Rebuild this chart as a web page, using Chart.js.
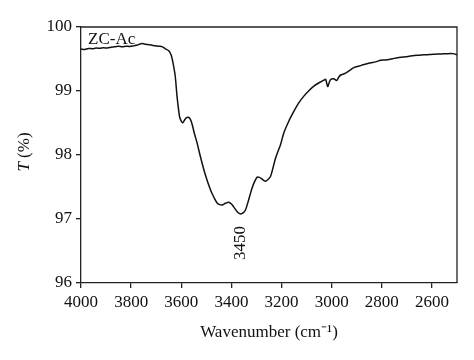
<!DOCTYPE html>
<html>
<head>
<meta charset="utf-8">
<script src="https://cdn.jsdelivr.net/npm/chart.js@4"></script>
<style>
  body { margin: 0; background: #fff; }
  #wrap { width: 474px; height: 360px; }
</style>
</head>
<body>
<div id="wrap"><canvas id="myChart" width="474" height="360"></canvas></div>
<script>
// spectrum
const wavenumber = [4000, 3985, 3970, 3955, 3940, 3925, 3910, 3895, 3880, 3865, 3850, 3835, 3820, 3805, 3790, 3775, 3760, 3748, 3735, 3720, 3705, 3690, 3675, 3662, 3650, 3640, 3632, 3624, 3617, 3607, 3600, 3594, 3588, 3580, 3572, 3564, 3556, 3548, 3537, 3524, 3504, 3484, 3470, 3457, 3447, 3437, 3424, 3411, 3400, 3391, 3376, 3364, 3352, 3344, 3334, 3324, 3316, 3308, 3297, 3288, 3280, 3272, 3264, 3256, 3244, 3234, 3224, 3214, 3204, 3191, 3172, 3151, 3132, 3111, 3092, 3071, 3052, 3040, 3031, 3024, 3016, 3010, 3004, 2992, 2980, 2972, 2964, 2950, 2940, 2925, 2911, 2890, 2871, 2855, 2844, 2825, 2804, 2790, 2777, 2757, 2737, 2715, 2695, 2671, 2650, 2632, 2615, 2604, 2585, 2564, 2545, 2524, 2510, 2500];
const transmittance = [99.655, 99.650, 99.665, 99.660, 99.670, 99.668, 99.675, 99.672, 99.685, 99.690, 99.700, 99.692, 99.700, 99.695, 99.705, 99.718, 99.740, 99.735, 99.725, 99.718, 99.708, 99.700, 99.690, 99.655, 99.630, 99.560, 99.420, 99.230, 98.920, 98.605, 98.530, 98.505, 98.540, 98.580, 98.590, 98.560, 98.470, 98.340, 98.190, 97.980, 97.690, 97.460, 97.340, 97.250, 97.225, 97.220, 97.245, 97.260, 97.235, 97.190, 97.110, 97.080, 97.100, 97.140, 97.260, 97.400, 97.500, 97.580, 97.655, 97.650, 97.630, 97.605, 97.590, 97.610, 97.665, 97.800, 97.950, 98.060, 98.160, 98.345, 98.520, 98.680, 98.810, 98.920, 99.000, 99.075, 99.125, 99.150, 99.170, 99.180, 99.070, 99.130, 99.180, 99.190, 99.165, 99.215, 99.250, 99.270, 99.290, 99.330, 99.365, 99.390, 99.415, 99.430, 99.440, 99.455, 99.480, 99.485, 99.490, 99.505, 99.520, 99.530, 99.540, 99.555, 99.560, 99.565, 99.568, 99.570, 99.575, 99.580, 99.582, 99.585, 99.580, 99.565];

const xTicks = [4000, 3800, 3600, 3400, 3200, 3000, 2800, 2600];
const yTicks = [96, 97, 98, 99, 100];
const sampleName = 'ZC-Ac';
const peakLabel = '3450';
const peakPos = 3362;

const serif = 'Liberation Serif';

// frame, sample name, peak label and y title
const extras = {
    id: 'extras',
    afterDraw(chart) {
        const c = chart.ctx;
        const a = chart.chartArea;
        const xs = chart.scales.x;
        c.save();
        c.strokeStyle = '#222';
        c.lineWidth = 1.3;
        c.beginPath();
        c.moveTo(a.left, a.top);
        c.lineTo(a.right, a.top);
        c.lineTo(a.right, a.bottom);
        c.stroke();

        c.fillStyle = '#111';
        c.font = '17px "' + serif + '"';
        c.textBaseline = 'middle';
        c.textAlign = 'left';
        c.fillText(sampleName, 88, 40);

        c.save();
        c.translate(xs.getPixelForValue(peakPos), 243);
        c.rotate(-Math.PI / 2);
        c.textAlign = 'center';
        c.fillText(peakLabel, 0, 0);
        c.restore();

        c.save();
        c.translate(25, 152);
        c.rotate(-Math.PI / 2);
        c.font = 'italic 17px "' + serif + '"';
        const wT = c.measureText('T').width;
        c.font = '17px "' + serif + '"';
        const wR = c.measureText(' (%)').width;
        const start = -(wT + wR) / 2;
        c.textAlign = 'left';
        c.font = 'italic 17px "' + serif + '"';
        c.fillText('T', start, 0);
        c.font = '17px "' + serif + '"';
        c.fillText(' (%)', start + wT, 0);
        c.restore();
        c.restore();
    }
};

const ctx = document.getElementById('myChart').getContext('2d');
const myChart = new Chart(ctx, {
    type: 'line',
    data: {
        datasets: [{
            label: sampleName,
            data: wavenumber.map((w, i) => ({ x: w, y: transmittance[i] })),
            borderColor: '#111',
            borderWidth: 1.5,
            pointRadius: 0,
            tension: 0.3,
            fill: false
        }]
    },
    options: {
        responsive: false,
        animation: false,
        layout: { padding: { left: 0, right: 17, top: 27, bottom: 0 } },
        plugins: {
            legend: { display: false },
            tooltip: { enabled: false }
        },
        scales: {
            x: {
                type: 'linear',
                reverse: true,
                min: 2500,
                max: 4000,
                afterBuildTicks: s => { s.ticks = xTicks.map(v => ({ value: v })); },
                afterFit: s => { s.height = 77; },
                grid: { display: true, drawOnChartArea: false, drawTicks: true, tickLength: 5, color: '#222', lineWidth: 1.3 },
                border: { display: true, color: '#222', width: 1.3 },
                ticks: { color: '#111', font: { family: serif, size: 17 }, padding: 4, maxRotation: 0, callback: v => String(v) },
                title: {
                    display: true,
                    text: 'Wavenumber (cm\u207B\u00B9)',
                    color: '#111',
                    font: { family: serif, size: 17 },
                    padding: { top: 4, bottom: 17 }
                }
            },
            y: {
                min: 96,
                max: 100,
                afterBuildTicks: s => { s.ticks = yTicks.map(v => ({ value: v })); },
                afterFit: s => { s.width = 81; },
                grid: { display: true, drawOnChartArea: false, drawTicks: true, tickLength: 5, color: '#222', lineWidth: 1.3 },
                border: { display: true, color: '#222', width: 1.3 },
                ticks: { color: '#111', font: { family: serif, size: 17 }, padding: 4, callback: v => String(v) }
            }
        }
    },
    plugins: [extras]
});
</script>
</body>
</html>
